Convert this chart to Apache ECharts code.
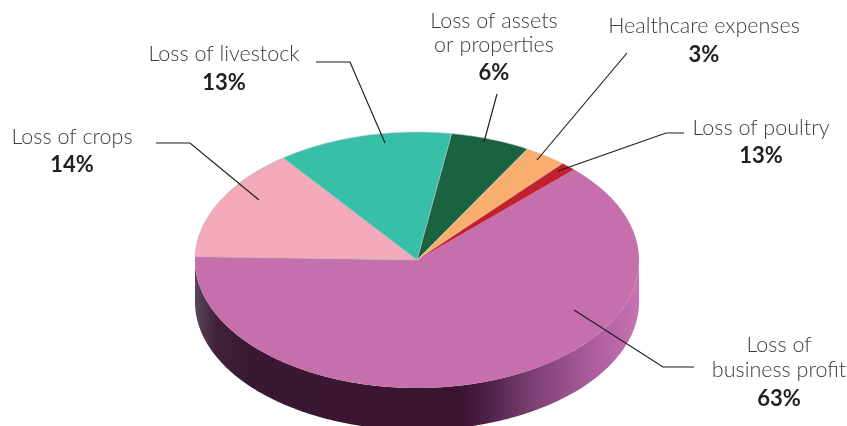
<!DOCTYPE html>
<html><head><meta charset="utf-8">
<style>html,body{margin:0;padding:0;background:#fff}#c{width:847px;height:426px}</style>
<script src="https://cdn.jsdelivr.net/npm/echarts@6/dist/echarts.min.js"></script></head>
<body><div id="c"></div>
<script>
// Slice sizes; printed labels are kept as in the source.
const categories = ['Loss of\nbusiness profit','Loss of crops','Loss of livestock','Loss of assets\nor properties','Healthcare expenses','Loss of poultry'];
const sliceValues = [62.9,14.3,12.8,5.8,3.1,1.1];
const printedLabels = ['63%','14%','13%','6%','3%','13%'];
const colors = ['#C56FAC','#F5AABB','#38BFA7','#1A6341','#F9AE70','#C1212F'];
const strokes = [null,'rgba(170,170,170,.8)','rgba(200,200,200,.8)','rgba(200,200,200,.8)','rgba(220,220,220,.7)',null];

const pie = {cx:417, cy:260, rx:222, ry:128, depth:42, start:45};
const total = sliceValues.reduce((a,b)=>a+b,0);
const pt = (deg,dy)=>{const t=deg*Math.PI/180;return [pie.cx+pie.rx*Math.cos(t), pie.cy-pie.ry*Math.sin(t)+(dy||0)];};
function startOf(i){let s=pie.start;for(let k=0;k<i;k++)s-=sliceValues[k]/total*360;return s;}

const wallFill = new echarts.graphic.LinearGradient(195,0,639,0,[
 {offset:0,color:'#57465a'},{offset:.05,color:'#3f2139'},{offset:.12,color:'#3a1832'},
 {offset:.6,color:'#3a1430'},{offset:.66,color:'#4f2149'},{offset:.76,color:'#7c3f72'},
 {offset:.9,color:'#ad5e9f'},{offset:1,color:'#c873b2'}],true);

function renderItem(params,api){
  const i=params.dataIndex, sweep=api.value(0)/total*360, a0=startOf(i), a1=a0-sweep;
  const children=[];
  const lo=Math.max(a1,-181), hi=Math.min(a0,0);
  if(hi>lo){
    const top=[],bot=[];
    for(let a=hi;a>=lo-1e-6;a-=Math.min(1,hi-lo)){top.push(pt(a));bot.unshift(pt(a,pie.depth));}
    children.push({type:'polygon',shape:{points:top.concat(bot)},style:{fill:wallFill}});
  }
  const pts=[[pie.cx,pie.cy]];
  const n=Math.max(2,Math.ceil(sweep));
  for(let k=0;k<=n;k++)pts.push(pt(a0-sweep*k/n));
  children.push({type:'polygon',shape:{points:pts},style:{fill:api.visual('color'),stroke:strokes[i],lineWidth:.7,lineJoin:'round'}});
  return {type:'group',children};
}

const leaders=[
 [[694,367],[663,367],[574,310]],
 [[156,143],[190,143],[259,200]],
 [[316,62],[350,62],[385,143]],
 [[497,94],[484,142]],
 [[627,53],[537,160]],
 [[684,133],[666,133],[558,171]]];
const labelPos=[[779,345,25,399],[72,137,0,165],[224,54,0,83],[494,21,24,73],[704,26,0,55],[761,128,0,156]];

const graphic=[];
leaders.forEach(l=>graphic.push({type:'polyline',z:10,shape:{points:l},style:{fill:null,stroke:'#1c1c1c',lineWidth:1.15}}));
categories.forEach((c,i)=>{
  const p=labelPos[i];
  c.split('\n').forEach((ln,j)=>graphic.push({type:'text',z:11,x:p[0],y:p[1]+j*p[2],style:{text:ln,fill:'#3d3d3d',font:'300 21.5px Lato',textAlign:'center',textVerticalAlign:'middle'}}));
  graphic.push({type:'text',z:11,x:p[0],y:p[3],style:{text:printedLabels[i],fill:'#231f20',font:'700 22px Lato',textAlign:'center',textVerticalAlign:'middle'}});
});

const chart=echarts.init(document.getElementById('c'),null,{renderer:'canvas'});
chart.setOption({
  animation:false,
  backgroundColor:'#fff',
  series:[{type:'custom',coordinateSystem:'none',renderItem,
    data:sliceValues.map((v,i)=>({name:categories[i],value:[v],itemStyle:{color:colors[i]}}))}],
  graphic
});
</script></body></html>
